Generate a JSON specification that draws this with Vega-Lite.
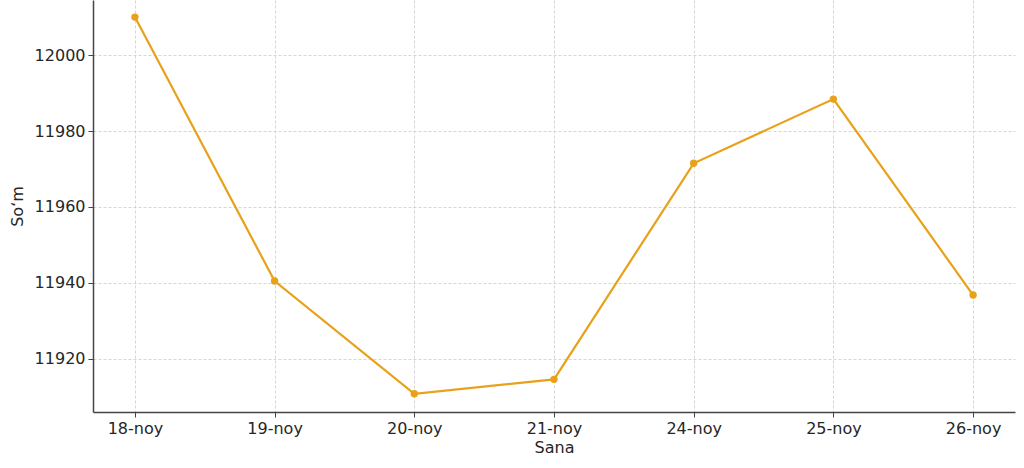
{
  "$schema": "https://vega.github.io/schema/vega-lite/v6.json",
  "width": 922,
  "height": 412,
  "autosize": "none",
  "padding": {"left": 93, "top": 0, "right": 9, "bottom": 56},
  "background": "white",
  "config": {
    "view": {"stroke": null},
    "font": "DejaVu Sans",
    "axis": {
      "labelFont": "DejaVu Sans",
      "titleFont": "DejaVu Sans",
      "labelFontSize": 16,
      "titleFontSize": 16,
      "labelColor": "#262626",
      "titleColor": "#262626",
      "titleFontWeight": "normal",
      "domainColor": "#444444",
      "domainWidth": 1.5,
      "tickColor": "#444444",
      "tickSize": 5,
      "gridColor": "#cccccc",
      "gridDash": [3, 2],
      "gridWidth": 0.8
    }
  },
  "data": {
    "values": [
      {"sana": "18-noy", "som": 12010.0},
      {"sana": "19-noy", "som": 11940.5},
      {"sana": "20-noy", "som": 11910.8},
      {"sana": "21-noy", "som": 11914.6},
      {"sana": "24-noy", "som": 11971.5},
      {"sana": "25-noy", "som": 11988.4},
      {"sana": "26-noy", "som": 11936.8}
    ]
  },
  "encoding": {
    "x": {
      "field": "sana",
      "type": "ordinal",
      "sort": null,
      "scale": {"type": "point", "padding": 0.3},
      "axis": {"title": "Sana", "labelAngle": 0, "labelPadding": 3, "titlePadding": 3, "grid": true}
    },
    "y": {
      "field": "som",
      "type": "quantitative",
      "scale": {"domain": [11906, 12014.5], "nice": false, "zero": false},
      "axis": {"title": "Soʻm", "format": "d", "values": [11920, 11940, 11960, 11980, 12000], "labelPadding": 3, "titlePadding": 9, "grid": true}
    }
  },
  "layer": [
    {"mark": {"type": "line", "color": "#E8A11A", "strokeWidth": 2.2}},
    {"mark": {"type": "point", "filled": true, "color": "#E8A11A", "size": 55, "opacity": 1}}
  ]
}
